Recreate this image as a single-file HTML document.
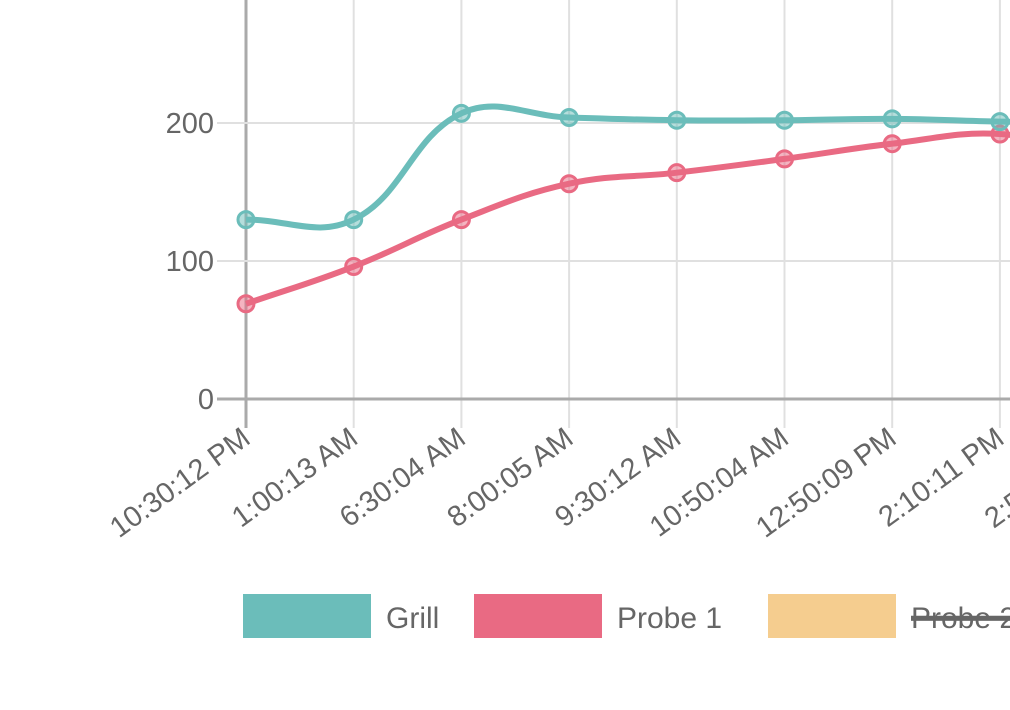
<!DOCTYPE html>
<html><head><meta charset="utf-8"><style>
html,body{margin:0;padding:0;background:#fff;}
svg{display:block;font-family:"Liberation Sans",sans-serif;}
</style></head><body>
<svg id="chart" width="1010" height="710" viewBox="0 0 1010 710"></svg>
<script>
const categories=["10:30:12 PM","1:00:13 AM","6:30:04 AM","8:00:05 AM","9:30:12 AM","10:50:04 AM","12:50:09 PM","2:10:11 PM","2:50:00 PM"];
const grillValues=[130,130,207,204,202,202,203,201,200];
const probe1Values=[69,96,130,156,164,174,185,192,176];
const yTicks=[0,100,200];
const seriesNames=["Grill","Probe 1","Probe 2"];
const NS="http://www.w3.org/2000/svg";
const svg=document.getElementById('chart');
const x0=246,dx=107.7,yBase=399,yScale=1.38;
function xs(i){return x0+i*dx;}
function ys(v){return yBase-v*yScale;}
function mk(t,a,p){const e=document.createElementNS(NS,t);for(const k in a)e.setAttribute(k,a[k]);(p||svg).appendChild(e);return e;}
// gridlines
categories.forEach((c,i)=>{
 const g=mk('line',{x1:xs(i),x2:xs(i),y1:0,y2:428,stroke:i==0?'#aaa':'#e0e0e0','stroke-width':i==0?3:2});
 
 
 const t=mk('text',{x:0,y:0,'font-size':29,fill:'#666','text-anchor':'end',transform:`translate(${xs(i)+6},${442}) rotate(-36)`});
 t.textContent=c;
 
 
});
yTicks.forEach(v=>{
 const g=mk('line',{x1:217,x2:1010,y1:ys(v),y2:ys(v),stroke:v==0?'#aaa':'#e0e0e0','stroke-width':v==0?3:2});
 
 
 const t=mk('text',{x:214,y:ys(v)+10,'font-size':29,fill:'#666','text-anchor':'end'});
 t.textContent=v;
 
 
});
function pathFor(vals){
 const pts=vals.map((v,i)=>[xs(i),ys(v)]);const T=0.4;
 let d=`M${pts[0][0]},${pts[0][1]}`;
 const cps=pts.map((p,i)=>{
  const prev=pts[Math.max(0,i-1)],next=pts[Math.min(pts.length-1,i+1)];
  const d01=Math.hypot(p[0]-prev[0],p[1]-prev[1]),d12=Math.hypot(next[0]-p[0],next[1]-p[1]);
  let fa=d01/(d01+d12)||0,fb=d12/(d01+d12)||0;fa*=T;fb*=T;
  return {pr:[p[0]-fa*(next[0]-prev[0]),p[1]-fa*(next[1]-prev[1])],nx:[p[0]+fb*(next[0]-prev[0]),p[1]+fb*(next[1]-prev[1])]};
 });
 for(let i=1;i<pts.length;i++){d+=` C${cps[i-1].nx[0]},${cps[i-1].nx[1]} ${cps[i].pr[0]},${cps[i].pr[1]} ${pts[i][0]},${pts[i][1]}`;}
 return d;
}
function series(vals,color,fill,name){
 const p=mk('path',{d:pathFor(vals),fill:'none',stroke:color,'stroke-width':6,'stroke-linejoin':'round'});
 
 
 vals.forEach((v,i)=>{
  const c=mk('circle',{cx:xs(i),cy:ys(v),r:8,fill:fill,stroke:color,'stroke-width':3});
  
  
 });
}
series(probe1Values,'#e96a83','rgba(233,106,131,0.5)','probe1');
series(grillValues,'#6bbdba','rgba(107,189,186,0.5)','grill');
// legend
const leg=[[243,'#6bbdba',386,false],[474,'#e96a83',617,false],[768,'#f5cd8f',911,true]];
leg.forEach((l,i)=>{
 const g=mk('g',{});
 
 
 mk('rect',{x:l[0],y:594,width:128,height:44,fill:l[1]},g);
 const t=mk('text',{x:l[2],y:628,'font-size':30,fill:'#666','text-decoration':l[3]?'line-through':'none'},g);
 t.textContent=seriesNames[i];
 if(l[3]){mk('line',{x1:l[2],x2:1010,y1:617,y2:617,stroke:'#666','stroke-width':2.5},g);}
});
</script>
</body></html>
